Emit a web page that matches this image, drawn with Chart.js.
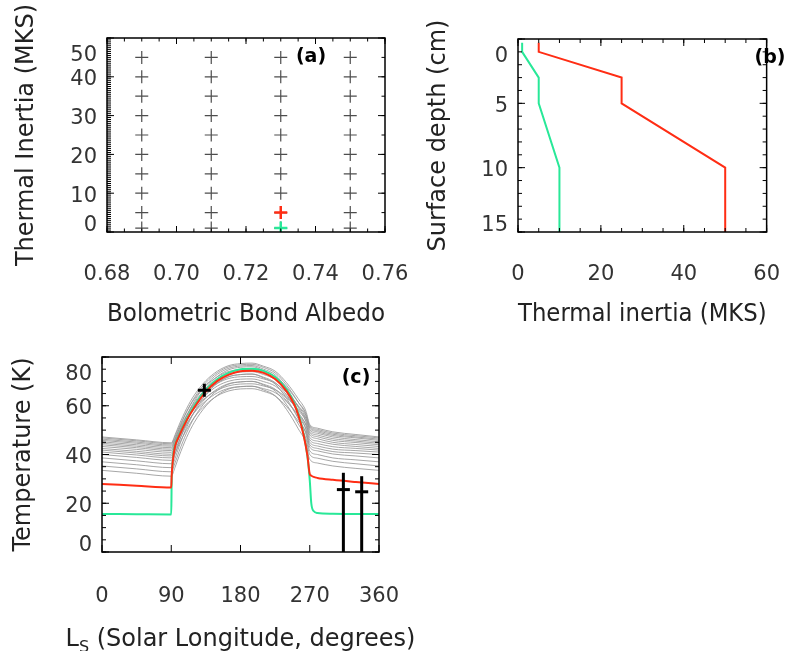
<!DOCTYPE html>
<html>
<head>
<meta charset="utf-8">
<script src="https://cdn.jsdelivr.net/npm/chart.js@4.4.1/dist/chart.umd.min.js"></script>
<style>
  html, body { margin: 0; padding: 0; background: #fff; }
  #wrap { position: relative; width: 810px; height: 651px; overflow: hidden; }
  #wrap canvas { position: absolute; left: 0; top: 0; }
</style>
</head>
<body>
<div id="wrap">
  <canvas id="panelA" width="810" height="651"></canvas>
  <canvas id="panelB" width="810" height="651"></canvas>
  <canvas id="panelC" width="810" height="651"></canvas>
</div>
<script>
// ---- (a) model grid: albedo x thermal inertia
const albedos = [0.69, 0.71, 0.73, 0.75];
const inertias = [1, 5, 10, 15, 20, 25, 30, 35, 40, 45];
const redPickA = [0.73, 5];
const greenPickA = [0.73, 1];
const xTicksA = [0.68, 0.70, 0.72, 0.74, 0.76];
const yTicksA = [0, 10, 20, 30, 40, 50];

// ---- (b) layered inertia profiles
const depthCm = [0.3, 1, 3, 5, 10, 15];
const redInertia = [5, 5, 25, 25, 50, 50];
const greenInertia = [1, 1, 5, 5, 10, 10];
const xTicksB = [0, 20, 40, 60];
const yTicksB = [0, 5, 10, 15];

// ---- (c) seasonal temperature curves
const lsFit = [0, 45, 90, 90.5, 92, 95, 100, 110, 120, 135, 150, 165, 180, 195, 210, 225, 240, 250, 255, 262, 267, 270, 272, 275, 280, 300, 330, 360];
const greenTemp = [15.6, 15.5, 15.4, 28.0, 37.7, 43.9, 47.8, 54.5, 60.0, 66.6, 71.0, 73.6, 75.0, 75.2, 74.3, 71.8, 66.6, 61.0, 56.9, 48.4, 39.2, 29.5, 20.0, 16.8, 16.0, 15.7, 15.6, 15.6];
const redTemp = [27.9, 27.2, 26.5, 31.0, 37.3, 43.4, 47.4, 54.0, 59.3, 65.8, 70.2, 72.8, 74.2, 74.4, 73.5, 71.0, 65.9, 60.4, 56.3, 48.0, 39.5, 32.0, 31.3, 30.8, 30.4, 29.6, 28.7, 27.9];

const lsGrid = [0, 45, 90, 95, 100, 110, 120, 135, 150, 165, 180, 195, 210, 225, 240, 255, 265, 270, 280, 300, 330, 360];
const grey1 = [33.5, 32.3, 31.1, 34.8, 39.2, 47.0, 53.2, 59.9, 64.3, 66.9, 67.8, 68.0, 66.5, 64.1, 58.4, 50.6, 44.6, 38.0, 36.5, 35.3, 34.3, 33.5];
const grey2 = [35.3, 34.1, 32.9, 36.6, 41.1, 48.9, 55.2, 61.8, 66.3, 68.9, 69.8, 70.0, 68.5, 66.1, 60.4, 52.6, 46.6, 40.0, 38.5, 37.2, 36.2, 35.3];
const grey3 = [37.0, 35.8, 34.6, 38.4, 43.1, 51.1, 57.6, 64.6, 69.2, 71.9, 72.8, 73.0, 71.4, 68.9, 62.9, 54.7, 48.4, 41.5, 40.0, 38.6, 37.8, 37.0];
const grey4 = [38.6, 37.4, 36.2, 40.2, 45.0, 53.3, 60.1, 67.2, 72.0, 74.8, 75.8, 76.0, 74.4, 71.7, 65.4, 56.9, 50.3, 43.0, 41.5, 40.2, 39.4, 38.6];
const grey5 = [40.0, 38.8, 37.6, 40.5, 44.1, 50.2, 55.2, 60.5, 64.1, 66.1, 66.9, 67.0, 65.9, 64.0, 59.6, 53.7, 49.1, 44.0, 42.5, 41.2, 40.6, 40.0];
const grey6 = [41.0, 39.8, 38.6, 41.7, 45.5, 52.1, 57.4, 63.1, 66.9, 69.1, 69.8, 70.0, 68.8, 66.8, 62.0, 55.5, 50.5, 45.0, 43.5, 42.2, 41.6, 41.0];
const grey7 = [41.8, 40.6, 39.4, 42.8, 46.8, 53.9, 59.6, 65.6, 69.6, 72.0, 72.8, 73.0, 71.7, 69.5, 64.4, 57.3, 51.9, 46.0, 44.5, 43.2, 42.5, 41.8];
const grey8 = [42.5, 41.3, 40.1, 43.7, 48.1, 55.8, 61.9, 68.5, 72.9, 75.4, 76.3, 76.5, 75.0, 72.7, 67.1, 59.4, 53.5, 47.0, 45.5, 44.2, 43.3, 42.5];
const grey9 = [43.3, 42.1, 40.9, 43.6, 46.9, 52.6, 57.2, 62.0, 65.3, 67.2, 67.9, 68.0, 67.0, 65.4, 61.6, 56.4, 52.4, 48.0, 46.5, 45.0, 44.1, 43.3];
const grey10 = [44.0, 42.8, 41.6, 44.5, 48.1, 54.2, 59.2, 64.5, 68.1, 70.1, 70.9, 71.0, 69.9, 68.1, 63.9, 58.1, 53.7, 48.8, 47.3, 45.8, 44.9, 44.0];
const grey11 = [44.6, 43.4, 42.2, 45.4, 49.2, 55.9, 61.3, 67.0, 70.8, 73.1, 73.8, 74.0, 72.8, 70.8, 66.2, 59.8, 54.9, 49.5, 48.0, 46.5, 45.5, 44.6];
const grey12 = [45.2, 44.0, 42.8, 46.2, 50.3, 57.5, 63.3, 69.5, 73.6, 76.0, 76.8, 77.0, 75.7, 73.5, 68.4, 61.5, 56.1, 50.2, 48.7, 47.2, 46.1, 45.2];
const grey13 = [45.8, 44.6, 43.4, 46.0, 49.0, 54.4, 58.8, 63.4, 66.4, 68.2, 68.9, 69.0, 68.1, 66.6, 63.2, 58.4, 54.8, 50.8, 49.3, 47.8, 46.8, 45.8];
const grey14 = [46.3, 45.1, 43.9, 46.7, 50.1, 56.0, 60.8, 65.8, 69.2, 71.2, 71.9, 72.0, 71.0, 69.3, 65.4, 60.0, 55.9, 51.3, 49.8, 48.3, 47.2, 46.3];
const grey15 = [46.8, 45.6, 44.4, 47.5, 51.1, 57.6, 62.8, 68.3, 71.9, 74.1, 74.8, 75.0, 73.8, 72.0, 67.6, 61.5, 56.9, 51.8, 50.3, 48.8, 47.7, 46.8];
const grey16 = [47.2, 46.0, 44.8, 48.1, 52.0, 58.9, 64.4, 70.3, 74.2, 76.5, 77.3, 77.5, 76.2, 74.2, 69.4, 62.9, 57.8, 52.3, 50.8, 49.3, 48.2, 47.2];
const greyRuns = [grey1, grey2, grey3, grey4, grey5, grey6, grey7, grey8,
                  grey9, grey10, grey11, grey12, grey13, grey14, grey15, grey16];

const plusLs = [133];
const plusT = [66.4];
const errLs = [313.7, 337.5];
const errT = [25.6, 24.7];
const errHi = [32.5, 31.1];
const errLo = [0, 0];
const xTicksC = [0, 90, 180, 270, 360];
const yTicksC = [0, 20, 40, 60, 80];

const RED = 'rgb(255,45,20)';
const GREEN = 'rgb(40,232,152)';
const GREY = 'rgba(150,150,150,0.85)';

Chart.defaults.font.family = '"DejaVu Sans", sans-serif';
Chart.defaults.color = '#333';

// box, inward tick marks, y labels held inside the box, panel letter
const framePlugin = {
  id: 'frame',
  afterDraw(chart, args, o) {
    const {ctx, chartArea: a} = chart;
    const xs = chart.scales.x, ys = chart.scales.y;
    function along(scale, step, cb) {
      const n = Math.round((scale.max - scale.min) / step);
      for (let i = 0; i <= n; i++) cb(scale.getPixelForValue(scale.min + i * step));
    }
    ctx.save();
    ctx.strokeStyle = '#000';
    ctx.lineWidth = 1;
    ctx.beginPath();
    (o.xMarks || []).forEach(m => along(xs, m.step, px => {
      ctx.moveTo(px, a.bottom); ctx.lineTo(px, a.bottom - m.len);
      ctx.moveTo(px, a.top); ctx.lineTo(px, a.top + m.len);
    }));
    (o.leftMarks || []).forEach(m => along(ys, m.step, py => {
      ctx.moveTo(a.left, py); ctx.lineTo(a.left + m.len, py);
    }));
    (o.rightMarks || []).forEach(m => along(ys, m.step, py => {
      ctx.moveTo(a.right, py); ctx.lineTo(a.right - m.len, py);
    }));
    ctx.stroke();
    ctx.lineWidth = 1.5;
    ctx.strokeRect(a.left, a.top, a.right - a.left, a.bottom - a.top);

    ctx.fillStyle = '#333';
    ctx.font = '21px "DejaVu Sans"';
    ctx.textAlign = 'right';
    ctx.textBaseline = 'middle';
    o.yLabels.forEach(v => {
      const py = Math.min(Math.max(ys.getPixelForValue(v), a.top + 15), a.bottom - 9);
      ctx.fillText(String(v), a.left - 10, py + 3);
    });

    ctx.fillStyle = '#000';
    ctx.font = 'bold 19px "DejaVu Sans"';
    ctx.textAlign = 'center';
    ctx.fillText(o.letter, o.letterX, o.letterY);

    if (o.subTitle) {
      const t = o.subTitle;
      const big = '24px "DejaVu Sans"', small = '16px "DejaVu Sans"';
      ctx.fillStyle = '#222';
      ctx.textAlign = 'left';
      ctx.textBaseline = 'alphabetic';
      ctx.font = big;
      const w1 = ctx.measureText(t.main).width, w3 = ctx.measureText(t.rest).width;
      ctx.font = small;
      const w2 = ctx.measureText(t.sub).width;
      const x0 = t.x - (w1 + w2 + w3) / 2;
      ctx.font = big;
      ctx.fillText(t.main, x0, t.y);
      ctx.font = small;
      ctx.fillText(t.sub, x0 + w1, t.y + 6);
      ctx.font = big;
      ctx.fillText(t.rest, x0 + w1 + w2, t.y);
    }
    ctx.restore();
  }
};

function axes(o) {
  return {
    x: {
      type: 'linear', min: o.xMin, max: o.xMax,
      afterBuildTicks: s => { s.ticks = o.xTicks.map(v => ({value: v})); },
      afterFit: s => { s.height = o.xHeight; },
      grid: {display: false, drawTicks: false},
      border: {display: false},
      ticks: {autoSkip: false, maxRotation: 0, padding: o.xPad, font: {size: 21}, color: '#333',
              callback: v => o.xFmt ? o.xFmt(v) : String(v)},
      title: o.xTitle
        ? {display: true, text: o.xTitle, font: {size: 24}, color: '#222', padding: {top: 0, bottom: o.xTitlePad}}
        : {display: false}
    },
    y: {
      type: 'linear', min: o.yMin, max: o.yMax, reverse: !!o.yReverse,
      afterFit: s => { s.width = o.yWidth; },
      grid: {display: false, drawTicks: false},
      border: {display: false},
      ticks: {display: false},
      title: {display: true, text: o.yTitle, font: {size: 24}, color: '#222', padding: {top: o.yTitlePad, bottom: 0}}
    }
  };
}

function baseOptions(padding, scales, frame) {
  return {
    responsive: false,
    animation: false,
    devicePixelRatio: 1,
    layout: {padding: padding},
    scales: scales,
    plugins: {legend: {display: false}, tooltip: {enabled: false}, frame: frame}
  };
}

// ---- panel (a)
const gridPts = [];
albedos.forEach(al => inertias.forEach(ti => gridPts.push({x: al, y: ti})));

new Chart(document.getElementById('panelA'), {
  type: 'scatter',
  data: {
    datasets: [
      {data: [{x: greenPickA[0], y: greenPickA[1]}], pointStyle: 'cross', pointRadius: 6.5,
       pointBorderColor: GREEN, pointBorderWidth: 2.5, order: 1},
      {data: [{x: redPickA[0], y: redPickA[1]}], pointStyle: 'cross', pointRadius: 6.5,
       pointBorderColor: RED, pointBorderWidth: 2.5, order: 1},
      {data: gridPts, pointStyle: 'cross', pointRadius: 6.5,
       pointBorderColor: '#4d4d4d', pointBorderWidth: 1.2, order: 2}
    ]
  },
  options: baseOptions({left: 0, top: 38, right: 425, bottom: 319},
    axes({xMin: 0.68, xMax: 0.76, xTicks: xTicksA, xFmt: v => v.toFixed(2), xHeight: 100, xPad: 30,
          xTitle: 'Bolometric Bond Albedo', xTitlePad: 2.6,
          yMin: 0, yMax: 50, yWidth: 107, yTitle: 'Thermal Inertia (MKS)', yTitlePad: 12.6}),
    {xMarks: [{step: 0.02, len: 6}, {step: 0.005, len: 3.5}],
     leftMarks: [{step: 10, len: 7}, {step: 0.5, len: 4}],
     rightMarks: [{step: 10, len: 7}, {step: 5, len: 3.5}],
     yLabels: yTicksA, letter: '(a)', letterX: 311, letterY: 57}),
  plugins: [framePlugin]
});

// ---- panel (b)
new Chart(document.getElementById('panelB'), {
  type: 'scatter',
  data: {
    datasets: [
      {data: depthCm.map((d, i) => ({x: redInertia[i], y: d})), showLine: true, pointRadius: 0,
       borderColor: RED, borderWidth: 2},
      {data: depthCm.map((d, i) => ({x: greenInertia[i], y: d})), showLine: true, pointRadius: 0,
       borderColor: GREEN, borderWidth: 2}
    ]
  },
  options: baseOptions({left: 410, top: 39, right: 15, bottom: 319},
    axes({xMin: 0, xMax: 60, xTicks: xTicksB, xHeight: 100, xPad: 30,
          xTitle: 'Thermal inertia (MKS)', xTitlePad: 3,
          yMin: 0, yMax: 15, yReverse: true, yWidth: 108, yTitle: 'Surface depth (cm)', yTitlePad: 14.6}),
    {xMarks: [{step: 20, len: 7}, {step: 5, len: 4}],
     leftMarks: [{step: 5, len: 7}, {step: 1, len: 4}],
     rightMarks: [{step: 5, len: 7}, {step: 1, len: 4}],
     yLabels: yTicksB, letter: '(b)', letterX: 770, letterY: 58}),
  plugins: [framePlugin]
});

// ---- panel (c)
const seasonSets = [];
errLs.forEach((ls, i) => {
  seasonSets.push({data: [{x: ls, y: errLo[i]}, {x: ls, y: errHi[i]}], showLine: true, pointRadius: 0,
                   borderColor: '#000', borderWidth: 3, order: 1});
  seasonSets.push({data: [{x: ls, y: errT[i]}], pointStyle: 'line', pointRadius: 6.5,
                   pointBorderColor: '#000', pointBorderWidth: 3, order: 1});
});
seasonSets.push({data: plusLs.map((ls, i) => ({x: ls, y: plusT[i]})), pointStyle: 'cross', pointRadius: 6.5,
                 pointBorderColor: '#000', pointBorderWidth: 3, order: 1});
seasonSets.push({data: lsFit.map((ls, i) => ({x: ls, y: redTemp[i]})), showLine: true, pointRadius: 0,
                 borderColor: RED, borderWidth: 2, cubicInterpolationMode: 'monotone', order: 2});
seasonSets.push({data: lsFit.map((ls, i) => ({x: ls, y: greenTemp[i]})), showLine: true, pointRadius: 0,
                 borderColor: GREEN, borderWidth: 2, cubicInterpolationMode: 'monotone', order: 3});
greyRuns.forEach(run => {
  seasonSets.push({data: lsGrid.map((ls, i) => ({x: ls, y: run[i]})), showLine: true, pointRadius: 0,
                   borderColor: GREY, borderWidth: 1, cubicInterpolationMode: 'monotone', order: 4});
});

new Chart(document.getElementById('panelC'), {
  type: 'scatter',
  data: {datasets: seasonSets},
  options: baseOptions({left: 0, top: 357, right: 431, bottom: 0},
    axes({xMin: 0, xMax: 360, xTicks: xTicksC, xHeight: 99, xPad: 32.4,
          yMin: 0, yMax: 80, yWidth: 102, yTitle: 'Temperature (K)', yTitlePad: 9.1}),
    {xMarks: [{step: 90, len: 7}],
     leftMarks: [{step: 20, len: 7}, {step: 5, len: 4}],
     rightMarks: [{step: 20, len: 7}, {step: 5, len: 4}],
     yLabels: yTicksC, letter: '(c)', letterX: 356, letterY: 378,
     subTitle: {main: 'L', sub: 'S', rest: ' (Solar Longitude, degrees)', x: 240.5, y: 646}}),
  plugins: [framePlugin]
});
</script>
</body>
</html>
